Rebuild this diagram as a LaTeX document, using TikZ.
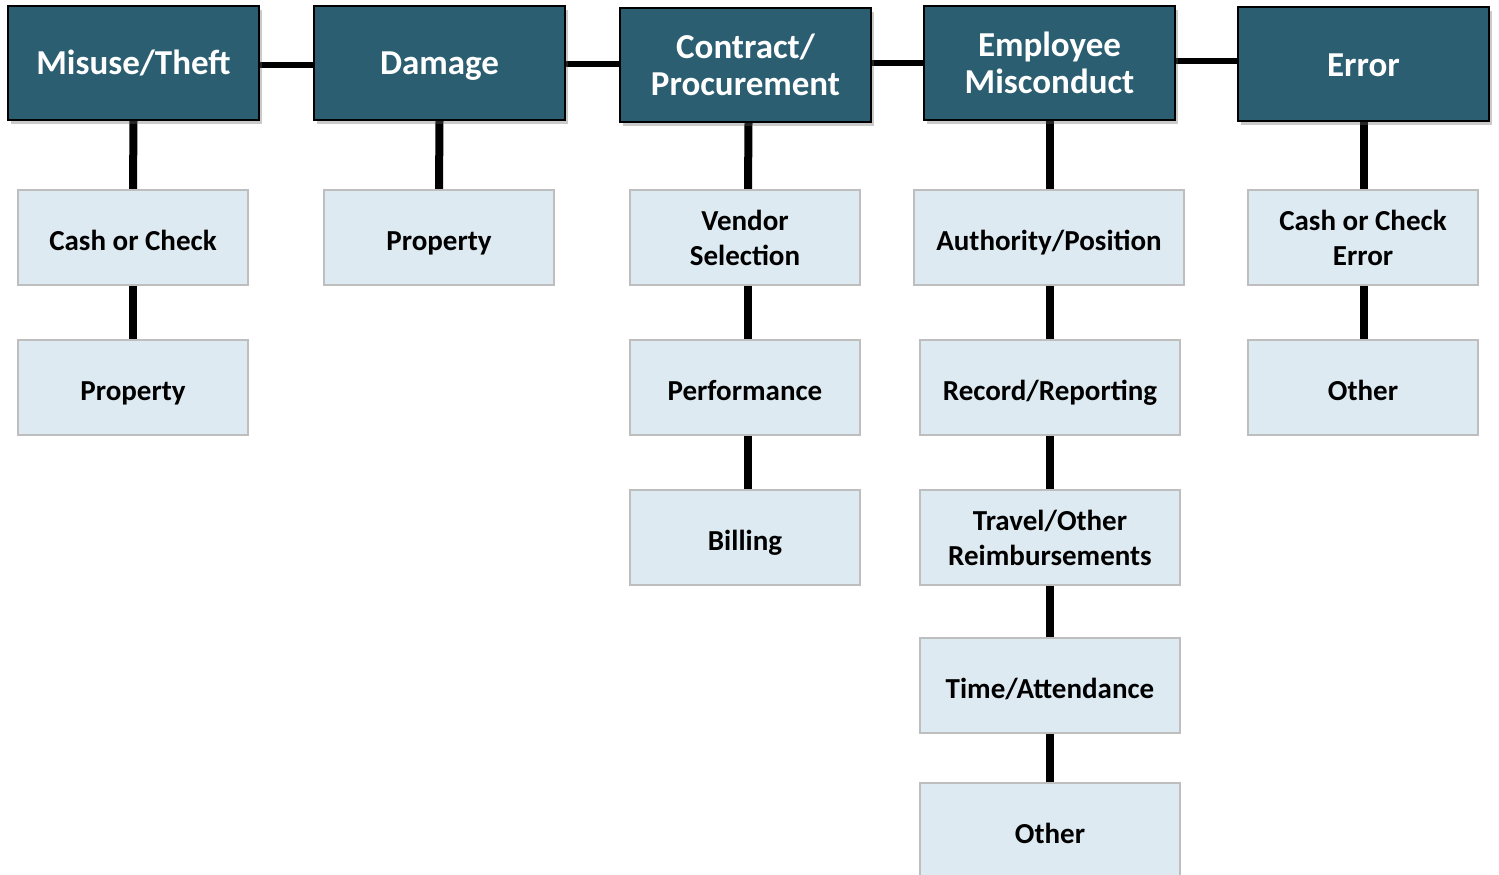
\documentclass[tikz,border=0pt]{standalone}
\usepackage{fontspec}
\setmainfont{Carlito}
\usetikzlibrary{shadows,backgrounds}
\definecolor{headfill}{RGB}{43,94,112}
\definecolor{subfill}{RGB}{222,234,241}
\definecolor{subedge}{RGB}{190,190,190}
\tikzset{
  headbox/.style={draw=black, line width=2pt, fill=headfill, text=white,
    font=\bfseries\fontsize{35}{37}\selectfont, align=center,
    minimum width=251pt, minimum height=114pt, inner sep=0pt,
    drop shadow={shadow xshift=3pt, shadow yshift=-4pt, opacity=0.35, fill=black!60}},
  subbox/.style={draw=subedge, line width=2pt, fill=subfill, text=black,
    font=\bfseries\fontsize{29}{35}\selectfont, align=center,
    minimum width=230pt, minimum height=95pt, inner sep=0pt},
  % keeps single-line labels on a common baseline
  oneline/.style={text height=#1, text depth=0pt},
  oneline/.default=25pt,
  link/.style={line width=5.5pt, black},
  stem/.style={line width=8pt, black},
}
\begin{document}
\begin{tikzpicture}[x=1pt, y=-1pt]
\useasboundingbox (0,0) rectangle (1499,875);

% category headers
\node[headbox, oneline=23pt] (h1) at (133.5,63) {Misuse/Theft};
\node[headbox, oneline=23pt] (h2) at (439.5,63) {Damage};
\node[headbox] (h3) at (745.5,65) {Contract/\\Procurement};
\node[headbox] (h4) at (1049.5,63) {Employee\\Misconduct};
\node[headbox, oneline=25pt] (h5) at (1363.5,64) {Error};

% Misuse/Theft
\node[subbox, oneline] (a1) at (133,237.5) {Cash or Check};
\node[subbox, oneline] (a2) at (133,387.5) {Property};
% Damage
\node[subbox, oneline] (b1) at (439,237.5) {Property};
% Contract/Procurement
\node[subbox] (c1) at (745,237.5) {Vendor\\Selection};
\node[subbox, oneline] (c2) at (745,387.5) {Performance};
\node[subbox, oneline] (c3) at (745,537.5) {Billing};
% Employee Misconduct
\node[subbox, oneline, minimum width=270pt] (d1) at (1049,237.5) {Authority/Position};
\node[subbox, oneline, minimum width=260pt] (d2) at (1050,387.5) {Record/Reporting};
\node[subbox, minimum width=260pt] (d3) at (1050,537.5) {Travel/Other\\Reimbursements};
\node[subbox, oneline, minimum width=260pt] (d4) at (1050,685.5) {Time/Attendance};
\node[subbox, oneline, minimum width=260pt] (d5) at (1050,830.5) {Other};
% Error
\node[subbox] (e1) at (1363,237.5) {Cash or Check\\Error};
\node[subbox, oneline] (e2) at (1363,387.5) {Other};

\begin{scope}[on background layer]
  % horizontal links between the headers
  \draw[link] ([yshift=-2pt]h1.east) -- ([yshift=-2pt]h1.east -| h2.west);
  \draw[link] ([yshift=-1pt]h2.east) -- ([yshift=-1pt]h2.east -| h3.west);
  \draw[link] ([yshift=2pt]h3.east) -- ([yshift=2pt]h3.east -| h4.west);
  \draw[link] ([yshift=2pt]h4.east) -- ([yshift=2pt]h4.east -| h5.west);
  % stems down each column
  \draw[stem] (h1.south) -- (a1.north);
  \draw[stem] (a1.south) -- (a2.north);
  \draw[stem] (h2.south) -- (b1.north);
  \draw[stem] ([xshift=3pt]h3.south) -- ([xshift=3pt]c1.north);
  \draw[stem] ([xshift=3pt]c1.south) -- ([xshift=3pt]c2.north);
  \draw[stem] ([xshift=3pt]c2.south) -- ([xshift=3pt]c3.north);
  \draw[stem] (h4.south) -- (d1.north -| h4.south);
  \draw[stem] (d1.south -| d2.north) -- (d2.north);
  \draw[stem] (d2.south) -- (d3.north);
  \draw[stem] (d3.south) -- (d4.north);
  \draw[stem] (d4.south) -- (d5.north);
  \draw[stem] (h5.south) -- (e1.north -| h5.south);
  \draw[stem] (e1.south -| h5.south) -- (e2.north -| h5.south);
\end{scope}
\end{tikzpicture}
\end{document}
